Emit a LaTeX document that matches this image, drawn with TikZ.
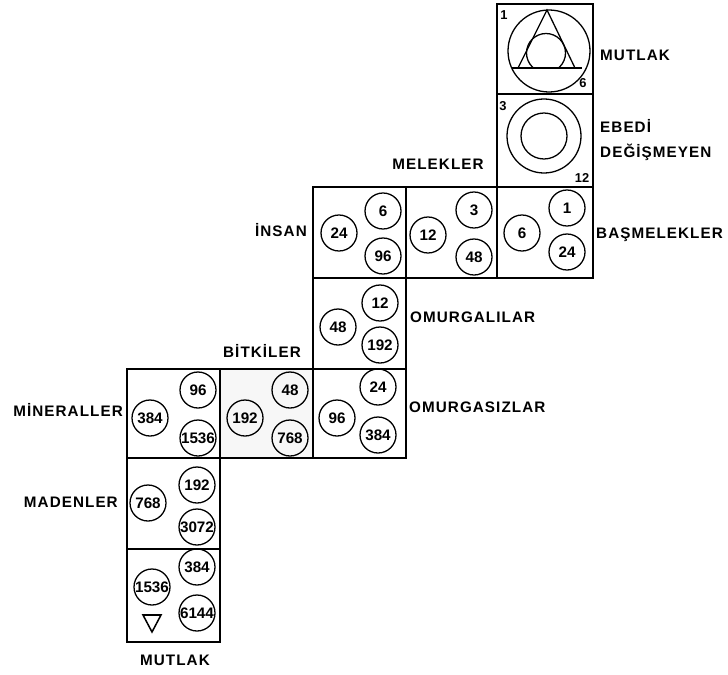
\documentclass[tikz,border=0pt]{standalone}
\usepackage{fontspec}
\newfontfamily\etiketfont[LetterSpace=7]{Liberation Sans}
\newfontfamily\sayifont{Liberation Sans}

\begin{document}
\begin{tikzpicture}[
        x=0.03cm, y=-0.03cm,
        cell/.style={line width=1.7pt, black},
        num/.style={circle, draw, line width=1.1pt, minimum size=1.08cm, inner sep=0pt,
            font=\sayifont\bfseries\fontsize{13}{13}\selectfont},
        etiket/.style={inner sep=0pt, align=left,
            font=\etiketfont\bfseries\fontsize{13}{21}\selectfont},
        kose/.style={inner sep=0pt, font=\sayifont\bfseries\fontsize{11}{11}\selectfont}
    ]
        \useasboundingbox (0,0) rectangle (728,675);

        % Izgara
        \def\xa{127} \def\xb{220} \def\xc{313} \def\xd{406} \def\xe{497} \def\xf{593}
        \def\ya{4} \def\yb{94} \def\yc{187} \def\yd{278} \def\ye{369} \def\yf{458} \def\yg{549} \def\yh{642}

        % Hücreler
        \fill[gray!6] (\xb,\ye) rectangle (\xc,\yf);
        \draw[cell] (\xe,\ya) rectangle (\xf,\yb);
        \draw[cell] (\xe,\yb) rectangle (\xf,\yc);
        \draw[cell] (\xe,\yc) rectangle (\xf,\yd);
        \draw[cell] (\xc,\yc) rectangle (\xd,\yd);
        \draw[cell] (\xd,\yc) rectangle (\xe,\yd);
        \draw[cell] (\xc,\yd) rectangle (\xd,\ye);
        \draw[cell] (\xa,\ye) rectangle (\xb,\yf);
        \draw[cell] (\xb,\ye) rectangle (\xc,\yf);
        \draw[cell] (\xc,\ye) rectangle (\xd,\yf);
        \draw[cell] (\xa,\yf) rectangle (\xb,\yg);
        \draw[cell] (\xa,\yg) rectangle (\xb,\yh);

        % Mutlak (üst)
        \draw[line width=1.1pt] (549,51) circle (41);
        \begin{scope}
            \clip (\xe,\ya) rectangle (\xf,68);
            \draw[line width=1.1pt] (546,53) circle (19.5);
        \end{scope}
        \draw[line width=1.1pt] (518,68) -- (547,10) -- (575,68);
        \draw[line width=2pt] (512,68) -- (582,68);
        \node[kose] (m1) at (504,15) {1};
        \node[kose] (m6) at (583,83) {6};

        % Ebedi değişmeyen
        \draw[line width=1.1pt] (544,136) circle (37);
        \draw[line width=1.1pt] (544,136) circle (23);
        \node[kose] (e3) at (503,106) {3};
        \node[kose] (e12) at (582,178) {12};

        % Daireler
        \node[num] (insA) at (339,233) {24};
        \node[num] (insB) at (383,211) {6};
        \node[num] (insC) at (383,256) {96};

        \node[num] (melA) at (428,235) {12};
        \node[num] (melB) at (474,210) {3};
        \node[num] (melC) at (474,257) {48};

        \node[num] (basA) at (522,233) {6};
        \node[num] (basB) at (567,208) {1};
        \node[num] (basC) at (567,252) {24};

        \node[num] (omuA) at (338,327) {48};
        \node[num] (omuB) at (380,303) {12};
        \node[num] (omuC) at (380,345) {192};

        \node[num] (minA) at (150,418) {384};
        \node[num] (minB) at (198,390) {96};
        \node[num] (minC) at (198,438) {1536};

        \node[num] (bitA) at (245,418) {192};
        \node[num] (bitB) at (290,390) {48};
        \node[num] (bitC) at (290,438) {768};

        \node[num] (omsA) at (337,418) {96};
        \node[num] (omsB) at (378,387) {24};
        \node[num] (omsC) at (378,435) {384};

        \node[num] (madA) at (148,503) {768};
        \node[num] (madB) at (197,485) {192};
        \node[num] (madC) at (197,527) {3072};

        \node[num] (mutA) at (152,587) {1536};
        \node[num] (mutB) at (197,567) {384};
        \node[num] (mutC) at (197,613) {6144};
        \draw[line width=1.3pt] (143,615) -- (161,615) -- (152,632) -- cycle;

        % Etiketler
        \node[etiket, anchor=west] (lMutlak) at (600,55) {MUTLAK};
        \node[etiket, anchor=west] (lEbedi) at (600,140) {EBEDİ\\DEĞİŞMEYEN};
        \node[etiket] (lMelek) at (438,164) {MELEKLER};
        \node[etiket, anchor=west] (lBasmelek) at (596,235) {BAŞMELEKLER};
        \node[etiket, anchor=east] (lInsan) at (307,230) {İNSAN};
        \node[etiket, anchor=west] (lOmurgali) at (410,317) {OMURGALILAR};
        \node[etiket] (lBitki) at (262,351) {BİTKİLER};
        \node[etiket, anchor=east] (lMineral) at (123,410) {MİNERALLER};
        \node[etiket, anchor=west] (lOmurgasiz) at (409,407) {OMURGASIZLAR};
        \node[etiket, anchor=east] (lMaden) at (118,502) {MADENLER};
        \node[etiket] (lMutlakAlt) at (175,660) {MUTLAK};

    \end{tikzpicture}
\end{document}
